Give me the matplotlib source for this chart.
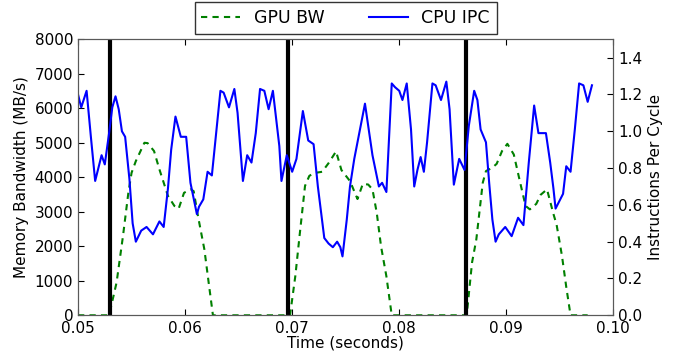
import matplotlib
matplotlib.use("Agg")
import matplotlib.pyplot as plt

# CPU IPC trace (time in s, instructions per cycle)
ipc_t = [0.0500, 0.0503, 0.0508, 0.0512, 0.0516, 0.0522, 0.0525, 0.0529, 0.0532, 0.0535,
         0.0538, 0.0541, 0.0544, 0.0548, 0.0551, 0.0554, 0.0559, 0.0564, 0.0570, 0.0576,
         0.0580, 0.0584, 0.0587, 0.0591, 0.0596, 0.0601, 0.0605, 0.0611, 0.0613, 0.0617,
         0.0621, 0.0625, 0.0633, 0.0636, 0.0641, 0.0646, 0.0649, 0.0654, 0.0658, 0.0662,
         0.0666, 0.0670, 0.0674, 0.0678, 0.0682, 0.0684, 0.0688, 0.0690, 0.0695, 0.0700,
         0.0704, 0.0710, 0.0715, 0.0720, 0.0724, 0.0730, 0.0734, 0.0738, 0.0742, 0.0745,
         0.0747, 0.0751, 0.0754, 0.0758, 0.0762, 0.0768, 0.0771, 0.0775, 0.0781, 0.0784,
         0.0788, 0.0793, 0.0796, 0.0800, 0.0803, 0.0807, 0.0811, 0.0814, 0.0817, 0.0820,
         0.0823, 0.0826, 0.0831, 0.0834, 0.0839, 0.0844, 0.0847, 0.0851, 0.0856, 0.0861,
         0.0865, 0.0870, 0.0873, 0.0876, 0.0881, 0.0884, 0.0887, 0.0890, 0.0893, 0.0899,
         0.0905, 0.0911, 0.0916, 0.0921, 0.0926, 0.0930, 0.0937, 0.0941, 0.0944, 0.0946,
         0.0953, 0.0956, 0.0960, 0.0964, 0.0968, 0.0972, 0.0976, 0.0980]
ipc = [1.20, 1.13, 1.22, 0.97, 0.73, 0.87, 0.82, 0.99, 1.13, 1.19,
       1.12, 1.00, 0.97, 0.74, 0.50, 0.40, 0.46, 0.48, 0.44, 0.51,
       0.48, 0.69, 0.90, 1.08, 0.97, 0.97, 0.72, 0.55, 0.59, 0.63,
       0.78, 0.76, 1.22, 1.21, 1.13, 1.23, 1.10, 0.73, 0.87, 0.83,
       0.99, 1.23, 1.22, 1.12, 1.22, 1.12, 0.92, 0.73, 0.87, 0.78,
       0.85, 1.11, 0.95, 0.93, 0.70, 0.42, 0.39, 0.37, 0.40, 0.37,
       0.32, 0.52, 0.70, 0.85, 0.97, 1.15, 1.03, 0.87, 0.70, 0.72,
       0.67, 1.26, 1.24, 1.22, 1.17, 1.26, 1.01, 0.70, 0.79, 0.86,
       0.78, 0.94, 1.26, 1.25, 1.17, 1.27, 1.12, 0.71, 0.85, 0.79,
       1.03, 1.22, 1.17, 1.01, 0.94, 0.72, 0.52, 0.40, 0.44, 0.48,
       0.43, 0.53, 0.49, 0.83, 1.14, 0.99, 0.99, 0.83, 0.69, 0.58,
       0.66, 0.81, 0.78, 1.01, 1.26, 1.25, 1.16, 1.25]

# GPU memory bandwidth trace (time in s, MB/s)
bw_t = [0.0500, 0.0529, 0.0536, 0.0542, 0.0547, 0.0550, 0.0554, 0.0562, 0.0565, 0.0571,
        0.0576, 0.0584, 0.0590, 0.0594, 0.0599, 0.0605, 0.0608, 0.0612, 0.0618, 0.0622,
        0.0626, 0.0698, 0.0703, 0.0707, 0.0712, 0.0716, 0.0720, 0.0728, 0.0734, 0.0741,
        0.0746, 0.0754, 0.0761, 0.0766, 0.0771, 0.0775, 0.0779, 0.0783, 0.0788, 0.0793,
        0.0863, 0.0868, 0.0872, 0.0878, 0.0881, 0.0887, 0.0891, 0.0896, 0.0901, 0.0907,
        0.0913, 0.0918, 0.0922, 0.0928, 0.0932, 0.0938, 0.0944, 0.0947, 0.0952, 0.0956,
        0.0960, 0.0976]
bw = [0, 0, 950, 2300, 3550, 4130, 4470, 5000, 4990, 4760,
      4230, 3460, 3170, 3090, 3550, 3650, 3600, 2880, 1910, 950,
      0, 0, 1150, 2330, 3750, 4040, 4120, 4160, 4410, 4750,
      4210, 3890, 3370, 3810, 3790, 3650, 2970, 2000, 1130, 0,
      0, 1530, 2200, 3840, 4180, 4280, 4390, 4760, 4970, 4660,
      3840, 3170, 3070, 3230, 3490, 3650, 2940, 2620, 1720, 820,
      0, 0]

# frame boundaries (vsync)
frames = [0.0530, 0.06963, 0.08625]

fig = plt.figure(figsize=(6.75, 3.52), dpi=100)
ax = fig.add_axes([0.1156, 0.1043, 0.7931, 0.7841])
ax2 = ax.twinx()

l1, = ax.plot(bw_t, bw, '--', color='green', lw=1.5, dashes=(3, 2.5), label='GPU BW')
l2, = ax2.plot(ipc_t, ipc, '-', color='blue', lw=1.5, label='CPU IPC')
for f in frames:
    ax.axvline(f, color='black', lw=3)

ax.set_xlim(0.05, 0.10)
ax.set_ylim(0, 8000)
ax2.set_ylim(0, 1.5)
ax.set_xticks([0.05, 0.06, 0.07, 0.08, 0.09, 0.10])
ax.set_yticks(range(0, 8001, 1000))
ax2.set_yticks([0.0, 0.2, 0.4, 0.6, 0.8, 1.0, 1.2, 1.4])

ax.set_xlabel('Time (seconds)', fontsize=11, labelpad=0)
ax.set_ylabel('Memory Bandwidth (MB/s)', fontsize=11)
ax2.set_ylabel('Instructions Per Cycle', fontsize=11)

ax.tick_params(direction='in', top=True, length=4, labelsize=11)
ax.tick_params(axis='x', pad=4)
ax2.tick_params(direction='in', length=4, labelsize=11)
for a in (ax, ax2):
    for s in a.spines.values():
        s.set_color('0.35')

leg = ax.legend([l1, l2], ['GPU BW', 'CPU IPC'], loc='lower center',
                bbox_to_anchor=(0.5, 1.02), ncol=2, fontsize=12.5,
                fancybox=False, framealpha=1, edgecolor='0.2',
                handlelength=2.2, columnspacing=2.6, borderaxespad=0)
leg.get_frame().set_linewidth(1)

fig.savefig('out.png', dpi=100)
